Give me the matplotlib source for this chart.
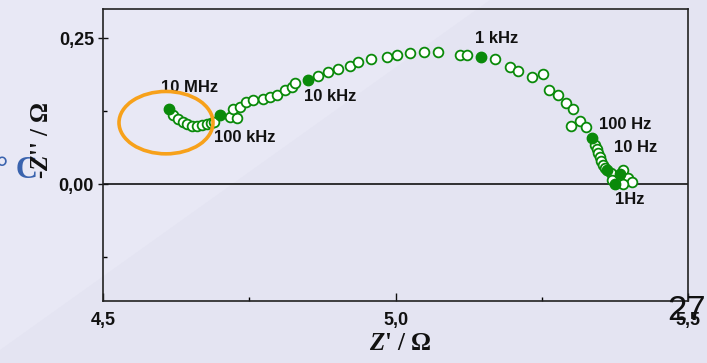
import matplotlib
matplotlib.use("Agg")
import matplotlib.pyplot as plt
from matplotlib.patches import Ellipse, Polygon

# Impedance spectrum (Nyquist plot): real part Z' and -Z'' in ohm
z_real_open = [4.620, 4.629, 4.636, 4.643, 4.652, 4.660, 4.669, 4.677, 4.684, 4.689,
               4.717, 4.729, 4.723, 4.734, 4.744, 4.757, 4.774, 4.785, 4.798, 4.811,
               4.823, 4.829,
               4.868, 4.884, 4.902, 4.922, 4.936, 4.958, 4.985, 5.002, 5.025, 5.048,
               5.073, 5.110, 5.122,
               5.170, 5.196, 5.210, 5.233, 5.252, 5.262, 5.278, 5.291, 5.304, 5.315,
               5.300, 5.326,
               5.341, 5.344, 5.347, 5.350, 5.352, 5.355, 5.358,
               5.368, 5.389, 5.398, 5.404, 5.389, 5.370]
z_imag_open = [0.118, 0.112, 0.106, 0.103, 0.100, 0.100, 0.101, 0.103, 0.105, 0.106,
               0.115, 0.114, 0.129, 0.133, 0.140, 0.144, 0.146, 0.149, 0.153, 0.161,
               0.167, 0.174,
               0.186, 0.192, 0.197, 0.203, 0.210, 0.215, 0.218, 0.221, 0.225, 0.226,
               0.226, 0.221, 0.221,
               0.214, 0.200, 0.194, 0.184, 0.188, 0.161, 0.152, 0.139, 0.128, 0.108,
               0.100, 0.098,
               0.067, 0.060, 0.053, 0.046, 0.039, 0.033, 0.027,
               0.019, 0.025, 0.011, 0.003, 0.001, 0.008]

# Points at decade frequencies (filled markers)
z_real_marked = [4.612, 4.700, 4.850, 5.146, 5.336, 5.362, 5.383, 5.375]
z_imag_marked = [0.129, 0.118, 0.179, 0.217, 0.079, 0.025, 0.018, 0.000]
freq_labels = ["10 MHz", "100 kHz", "10 kHz", "1 kHz", "100 Hz", "10 Hz", "", "1Hz"]
label_offsets = [(21, 21), (25, -22), (22, -17), (16, 19), (33, 14), (28, 22), (0, 0), (15, -15)]

x_ticks = [4.5, 5.0, 5.5]
x_tick_labels = ["4,5", "5,0", "5,5"]
y_ticks = [0.0, 0.25]
y_tick_labels = ["0,00", "0,25"]

W, H = 707, 363
bg = "#E4E4F2"
green = "#0A8A0A"

fig = plt.figure(figsize=(W / 100, H / 100), dpi=100, facecolor=bg)

# slide background: slightly lighter band in the upper-left corner
fig.patches.append(Polygon([(0, 1), (0, 1 - 350 / H), (490 / W, 1)], closed=True,
                           transform=fig.transFigure, facecolor="#E8E8F5",
                           edgecolor="none", zorder=-10))

ax = fig.add_axes([103 / W, 1 - 301 / H, (688 - 103) / W, (301 - 9) / H])
ax.set_facecolor("none")
ax.set_xlim(4.5, 5.5)
ax.set_ylim(-0.2, 0.3)

for s in ax.spines.values():
    s.set_color("#222222")
    s.set_linewidth(1.2)

ax.axhline(0.0, color="#111111", lw=1.2, zorder=1)

ax.plot(z_real_open, z_imag_open, ls="none", marker="o", ms=7.0,
        mfc="white", mec=green, mew=1.3, zorder=3)
ax.plot(z_real_marked, z_imag_marked, ls="none", marker="o", ms=7.5,
        mfc=green, mec=green, mew=1.0, zorder=4)

for xr, yi, lab, off in zip(z_real_marked, z_imag_marked, freq_labels, label_offsets):
    if lab:
        ax.annotate(lab, (xr, yi), xytext=off, textcoords="offset pixels",
                    ha="center", va="center", fontsize=12, fontweight="bold",
                    family="Liberation Sans", color="#111111", zorder=5)

# highlight of the high-frequency loop
ax.add_patch(Ellipse((4.6077, 0.1054), 0.1607, 0.1068, fill=False,
                     edgecolor="#F7A11A", lw=2.6, zorder=6))

ax.set_xticks(x_ticks)
ax.set_xticklabels(x_tick_labels)
ax.set_xticks([4.75, 5.25], minor=True)
ax.set_yticks(y_ticks)
ax.set_yticklabels(y_tick_labels)
ax.set_yticks([-0.125, 0.125], minor=True)
ax.tick_params(axis="x", which="major", direction="in", length=6, width=1.0, pad=8,
               labelsize=13, colors="#111111")
ax.tick_params(axis="x", which="minor", direction="in", length=3, width=1.0)
ax.tick_params(axis="y", which="major", direction="inout", length=7, width=1.0, pad=3,
               labelsize=13, colors="#111111")
ax.tick_params(axis="y", which="minor", direction="in", length=3, width=1.0)
for t in ax.get_xticklabels() + ax.get_yticklabels():
    t.set_fontweight("bold")
    t.set_family("Liberation Sans")

plt.rcParams["mathtext.fontset"] = "custom"
plt.rcParams["mathtext.it"] = "Liberation Serif:italic:bold"
plt.rcParams["mathtext.rm"] = "Liberation Serif:bold"

fig.text(400 / W, 1 - 343 / H, r"$Z$' / Ω", ha="center", va="center",
         fontsize=18, fontweight="bold", family="Liberation Serif", color="#111111")
fig.text(41 / W, 1 - 140 / H, r"-$Z$'' / Ω", ha="center", va="center", rotation=90,
         fontsize=18, fontweight="bold", family="Liberation Serif", color="#111111")

# fragment of the slide title at the left edge
fig.text(-4 / W, 1 - 170 / H, "° C", ha="left", va="center", fontsize=22,
         fontweight="bold", family="Liberation Serif", color="#3A63AE", zorder=-5)

# slide number
fig.text(706 / W, 1 - 320 / H, "27", ha="right", va="baseline", fontsize=25,
         family="Liberation Sans", color="#111111")

fig.savefig("out.png", dpi=100, facecolor=bg)
